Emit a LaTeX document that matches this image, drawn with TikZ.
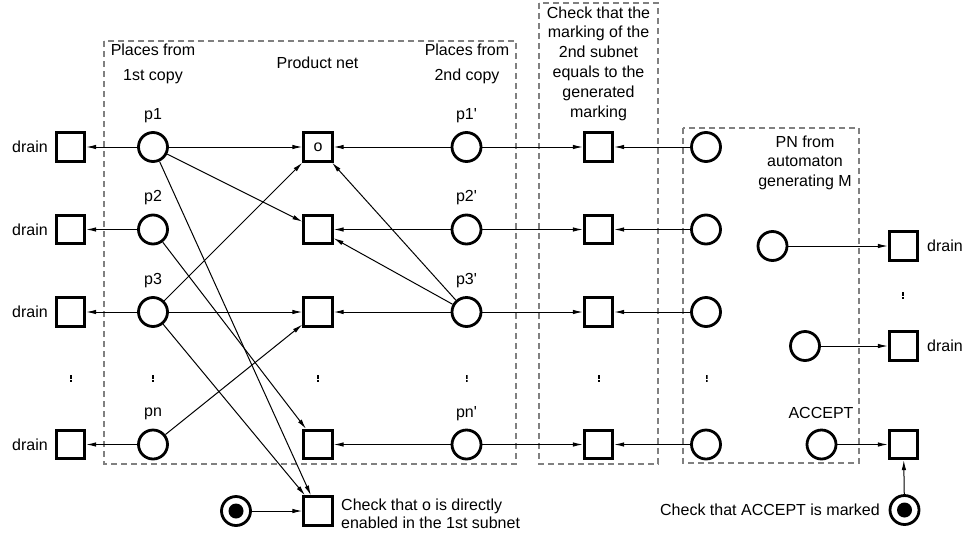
\documentclass[tikz,border=0pt]{standalone}
\usepackage{fontspec}
\setmainfont{Liberation Sans}
\usetikzlibrary{arrows.meta}
\begin{document}
\begin{tikzpicture}[x=1pt,y=-1pt,
  place/.style={circle,draw,line width=2.8pt,minimum size=29pt,inner sep=0pt},
  trans/.style={rectangle,draw,line width=2.8pt,minimum size=28.5pt,inner sep=0pt,font=\fontsize{16}{19}\selectfont},
  marked/.style={place,path picture={\fill (path picture bounding box.center) circle (7.5pt);}},
  arc/.style={-{Latex[length=10pt,width=4.5pt]},line width=1pt},
  group/.style={draw=gray,line width=1.4pt,dash pattern=on 6pt off 4pt},
  lbl/.style={inner sep=0pt,font=\fontsize{16}{19.5}\selectfont},
  vdot/.style={minimum width=2pt,minimum height=7pt,inner sep=0pt,outer sep=0pt,
    path picture={
      \fill (path picture bounding box.north west) rectangle ([yshift=-4pt]path picture bounding box.north east);
      \fill ([yshift=2pt]path picture bounding box.south west) rectangle (path picture bounding box.south east);}}
]
\useasboundingbox (0,0) rectangle (965,538);

% dashed groups
\draw[group] (104,41) rectangle (516,464);
\draw[group] (539,3) rectangle (658,464);
\draw[group] (683,128) rectangle (859,463);

% group captions
\node[lbl,align=center,font=\fontsize{16}{25}\selectfont] (cap1) at (153,63.5) {Places from\\1st copy};
\node[lbl] (cap2) at (317.5,63) {Product net};
\node[lbl,align=center,font=\fontsize{16}{25}\selectfont] (cap3) at (467,63.5) {Places from\\2nd copy};
\node[lbl,align=center,font=\fontsize{16}{19.8}\selectfont] (cap4) at (598.5,63.5)
  {Check that the\\marking of the\\2nd subnet\\equals to the\\generated\\marking};
\node[lbl,align=center] (cap5) at (805,162.5) {PN from\\automaton\\generating M};

% drains of the 1st copy
\node[trans] (d1) at (70.5,147) {};
\node[trans] (d2) at (70.5,229.5) {};
\node[trans] (d3) at (70.5,312) {};
\node[trans] (dn) at (70.5,444.5) {};
\foreach \n in {d1,d2,d3,dn}
  \node[lbl,anchor=east] at ([xshift=-22.5pt]\n.center) {drain};

% places of the 1st copy
\node[place] (p1) at (153,147) {};
\node[place] (p2) at (153,229.5) {};
\node[place] (p3) at (153,312) {};
\node[place] (pn) at (153,444.5) {};
\node[lbl] (lp1) at (153,116) {p1};
\node[lbl] (lp2) at (153,198) {p2};
\node[lbl] (lp3) at (153,280.5) {p3};
\node[lbl] (lpn) at (153,413.5) {pn};

% product transitions
\node[trans] (o) at (318,147) {o};
\node[trans] (t2) at (318,229.5) {};
\node[trans] (t3) at (318,312) {};
\node[trans] (tn) at (318,444.5) {};
\node[trans] (en) at (318,511) {};
\node[lbl,align=left,anchor=west,font=\fontsize{16}{18.5}\selectfont] (enl) at (341,514)
  {Check that o is directly\\enabled in the 1st subnet};
\node[marked] (m1) at (236,511) {};

% places of the 2nd copy
\node[place] (q1) at (466.5,147) {};
\node[place] (q2) at (466.5,229.5) {};
\node[place] (q3) at (466.5,312) {};
\node[place] (qn) at (466.5,444.5) {};
\node[lbl] (lq1) at (466.5,116) {p1\textquotesingle};
\node[lbl] (lq2) at (466.5,198) {p2\textquotesingle};
\node[lbl] (lq3) at (466.5,280.5) {p3\textquotesingle};
\node[lbl] (lqn) at (466.5,413.5) {pn\textquotesingle};

% equality check transitions
\node[trans] (c1) at (598.5,147) {};
\node[trans] (c2) at (598.5,229.5) {};
\node[trans] (c3) at (598.5,312) {};
\node[trans] (cn) at (598.5,444.5) {};

% automaton places
\node[place] (a1) at (706,147) {};
\node[place] (a2) at (706,229.5) {};
\node[place] (a3) at (706,312) {};
\node[place] (an) at (706,444.5) {};
\node[place] (b1) at (772.5,246) {};
\node[place] (b2) at (805,346) {};
\node[place] (acc) at (821.5,444.5) {};
\node[lbl] (lacc) at (821,413) {ACCEPT};

% automaton drains and acceptance check
\node[trans] (e1) at (903.5,246) {};
\node[trans] (e2) at (903.5,346) {};
\node[trans] (ea) at (903.5,444.5) {};
\node[lbl,anchor=west] (le1) at (927,246) {drain};
\node[lbl,anchor=west] (le2) at (927,346) {drain};
\node[marked] (m2) at (904.5,510) {};
\node[lbl,anchor=east] (lm2) at (880,510) {Check that ACCEPT is marked};

% vertical ellipses
\node[vdot] (v1) at (71,378) {};
\node[vdot] (v2) at (153,378) {};
\node[vdot] (v3) at (318,378) {};
\node[vdot] (v4) at (466.5,378) {};
\node[vdot] (v5) at (599,378) {};
\node[vdot] (v6) at (706.5,378) {};
\node[vdot] (v7) at (903,295) {};

% arcs of the 1st copy
\draw[arc] (p1) -- (d1);
\draw[arc] (p2) -- (d2);
\draw[arc] (p3) -- (d3);
\draw[arc] (pn) -- (dn);
\draw[arc] (p1) -- (o);
\draw[arc] (p1) -- (t2);
\draw[arc] (p1) -- (en);
\draw[arc] (p2) -- (tn);
\draw[arc] (p3) -- (o);
\draw[arc] (p3) -- (t3);
\draw[arc] (p3) -- (en);
\draw[arc] (pn) -- (t3);
\draw[arc] (m1) -- (en);

% arcs of the 2nd copy
\draw[arc] (q1) -- (o);
\draw[arc] (q2) -- (t2);
\draw[arc] (q3) -- (o);
\draw[arc] (q3) -- (t2);
\draw[arc] (q3) -- (t3);
\draw[arc] (qn) -- (tn);
\draw[arc] (q1) -- (c1);
\draw[arc] (q2) -- (c2);
\draw[arc] (q3) -- (c3);
\draw[arc] (qn) -- (cn);

% arcs of the automaton
\draw[arc] (a1) -- (c1);
\draw[arc] (a2) -- (c2);
\draw[arc] (a3) -- (c3);
\draw[arc] (an) -- (cn);
\draw[arc] (b1) -- (e1);
\draw[arc] (b2) -- (e2);
\draw[arc] (acc) -- (ea);
\draw[arc] (m2) -- (ea);
\end{tikzpicture}
\end{document}
